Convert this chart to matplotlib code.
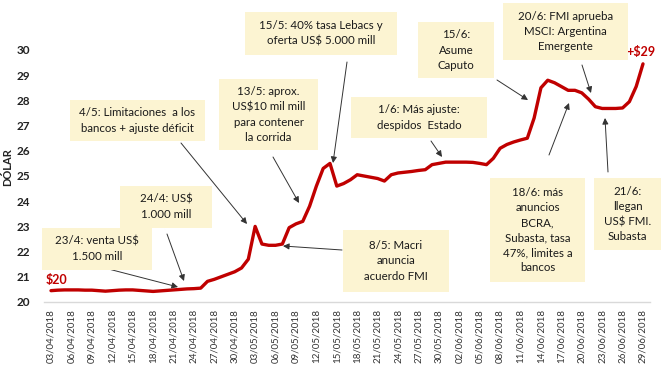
import numpy as np
import pandas as pd
import matplotlib
matplotlib.use('Agg')
import matplotlib.pyplot as plt
import matplotlib.dates as mdates
from matplotlib.patches import Rectangle

plt.rcParams['font.family'] = ['Lato', 'DejaVu Sans']

# data: daily dollar price, 03/04/2018 .. 29/06/2018
start, end = '2018-04-03', '2018-06-29'
dolar = [20.45, 20.47, 20.48, 20.48, 20.48, 20.47, 20.47, 20.45, 20.43, 20.45,
         20.47, 20.48, 20.48, 20.46, 20.44, 20.42, 20.44, 20.46, 20.48, 20.50,
         20.52, 20.53, 20.55, 20.82, 20.90, 21.00, 21.10, 21.20, 21.35, 21.70,
         23.00, 22.30, 22.25, 22.25, 22.30, 22.95, 23.10, 23.20, 23.80, 24.60,
         25.30, 25.50, 24.60, 24.70, 24.85, 25.05, 25.00, 24.95, 24.90, 24.80,
         25.05, 25.12, 25.15, 25.18, 25.22, 25.25, 25.45, 25.50, 25.55, 25.55,
         25.55, 25.55, 25.54, 25.50, 25.45, 25.70, 26.10, 26.25, 26.35, 26.43,
         26.50, 27.30, 28.50, 28.80, 28.70, 28.55, 28.40, 28.40, 28.30, 28.05,
         27.75, 27.68, 27.68, 27.68, 27.70, 27.95, 28.55, 29.45]
fechas = pd.date_range(start, end, freq='D')

# annotations: text, box (x0, y0, x1, y1) px, arrow start px, arrow tip px
notas = [
    ("23/4: venta US$\n1.500 mill", (42, 228, 152, 270), (93, 265), (178, 287)),
    ("24/4: US$\n1.000 mill", (120, 186, 212, 228), (167, 234), (184, 281)),
    ("4/5: Limitaciones  a los\nbancos + ajuste déficit", (70, 100, 205, 141), (181, 143), (247, 224)),
    ("13/5: aprox.\nUS$10 mil mill\npara contener\nla corrida", (219, 79, 318, 150), (273, 157), (299, 203)),
    ("15/5: 40% tasa Lebacs y\noferta US$ 5.000 mill", (245, 12, 397, 55), (347, 62), (333, 163)),
    ("8/5: Macri\nanuncia\nacuerdo FMI", (343, 230, 449, 292), (342, 250), (283, 246)),
    ("1/6: Más ajuste:\ndespidos  Estado", (351, 97, 487, 138), (431, 141), (442, 157)),
    ("15/6:\nAsume\nCaputo", (418, 22, 494, 78), (497, 80), (528, 100)),
    ("20/6: FMI aprueba\nMSCI: Argentina\nEmergente", (503, 3, 628, 60), (582, 65), (591, 93)),
    ("18/6: más\nanuncios\nBCRA,\nSubasta, tasa\n47%, limites a\nbancos", (490, 178, 585, 282), (549, 155), (569, 103)),
    ("21/6:\nllegan\nUS$ FMI.\nSubasta", (594, 178, 661, 250), (608, 172), (605, 118)),
]

W, H = 661, 368
def fp(x, y):
    return (x / W, 1 - y / H)

fig = plt.figure(figsize=(6.61, 3.68), dpi=100)
fig.patch.set_facecolor('white')
ax = fig.add_axes([44.2 / W, 66 / H, 605.6 / W, 252 / H])

# boxes first, under the line
for txt, (x0, y0, x1, y1), s, t in notas:
    fig.patches.append(Rectangle(fp(x0, y1), (x1 - x0) / W, (y1 - y0) / H,
                                 transform=fig.transFigure, facecolor='#fcf4d2',
                                 edgecolor='none', zorder=0))
    fig.text(*fp((x0 + x1) / 2, (y0 + y1) / 2), txt, ha='center', va='center',
             fontsize=8.3, color='#1a1a1a', linespacing=1.45, zorder=1)

ax.set_facecolor('none')
ax.plot(fechas, dolar, color='#c00000', lw=2.4, solid_joinstyle='round',
        solid_capstyle='round', zorder=3)

ax.set_ylim(20, 30)
ax.set_yticks(range(20, 31))
ax.set_xlim(pd.Timestamp('2018-04-02'), pd.Timestamp('2018-06-30'))
ax.set_xticks(pd.date_range(start, end, freq='3D'))
ax.xaxis.set_major_formatter(mdates.DateFormatter('%d/%m/%Y'))
ax.tick_params(axis='x', rotation=90, labelsize=7, length=0, pad=5, labelcolor='#333333')
ax.tick_params(axis='y', labelsize=8.5, length=0, pad=10, labelcolor='#222222')
for lab in ax.get_yticklabels():
    lab.set_fontweight('bold')
for side in ['top', 'right', 'left']:
    ax.spines[side].set_visible(False)
ax.spines['bottom'].set_color('#d9d9d9')
ax.spines['bottom'].set_linewidth(1)

fig.text(*fp(8, 167), 'DÓLAR', rotation=90, ha='center', va='center',
         fontsize=8, fontweight='bold', color='#222222')

ax.annotate('$20', xy=fp(56, 280), xycoords='figure fraction', ha='center', va='center',
            fontsize=9, fontweight='bold', color='#c00000')
ax.annotate('+$29', xy=fp(641, 52), xycoords='figure fraction', ha='center', va='center',
            fontsize=9, fontweight='bold', color='#c00000')

for txt, box, s, t in notas:
    ax.annotate('', xy=fp(*t), xytext=fp(*s), xycoords='figure fraction',
                textcoords='figure fraction',
                arrowprops=dict(arrowstyle='-|>', color='#333333', lw=0.7,
                                mutation_scale=9, shrinkA=0, shrinkB=0))

fig.savefig('out.png', dpi=100)
